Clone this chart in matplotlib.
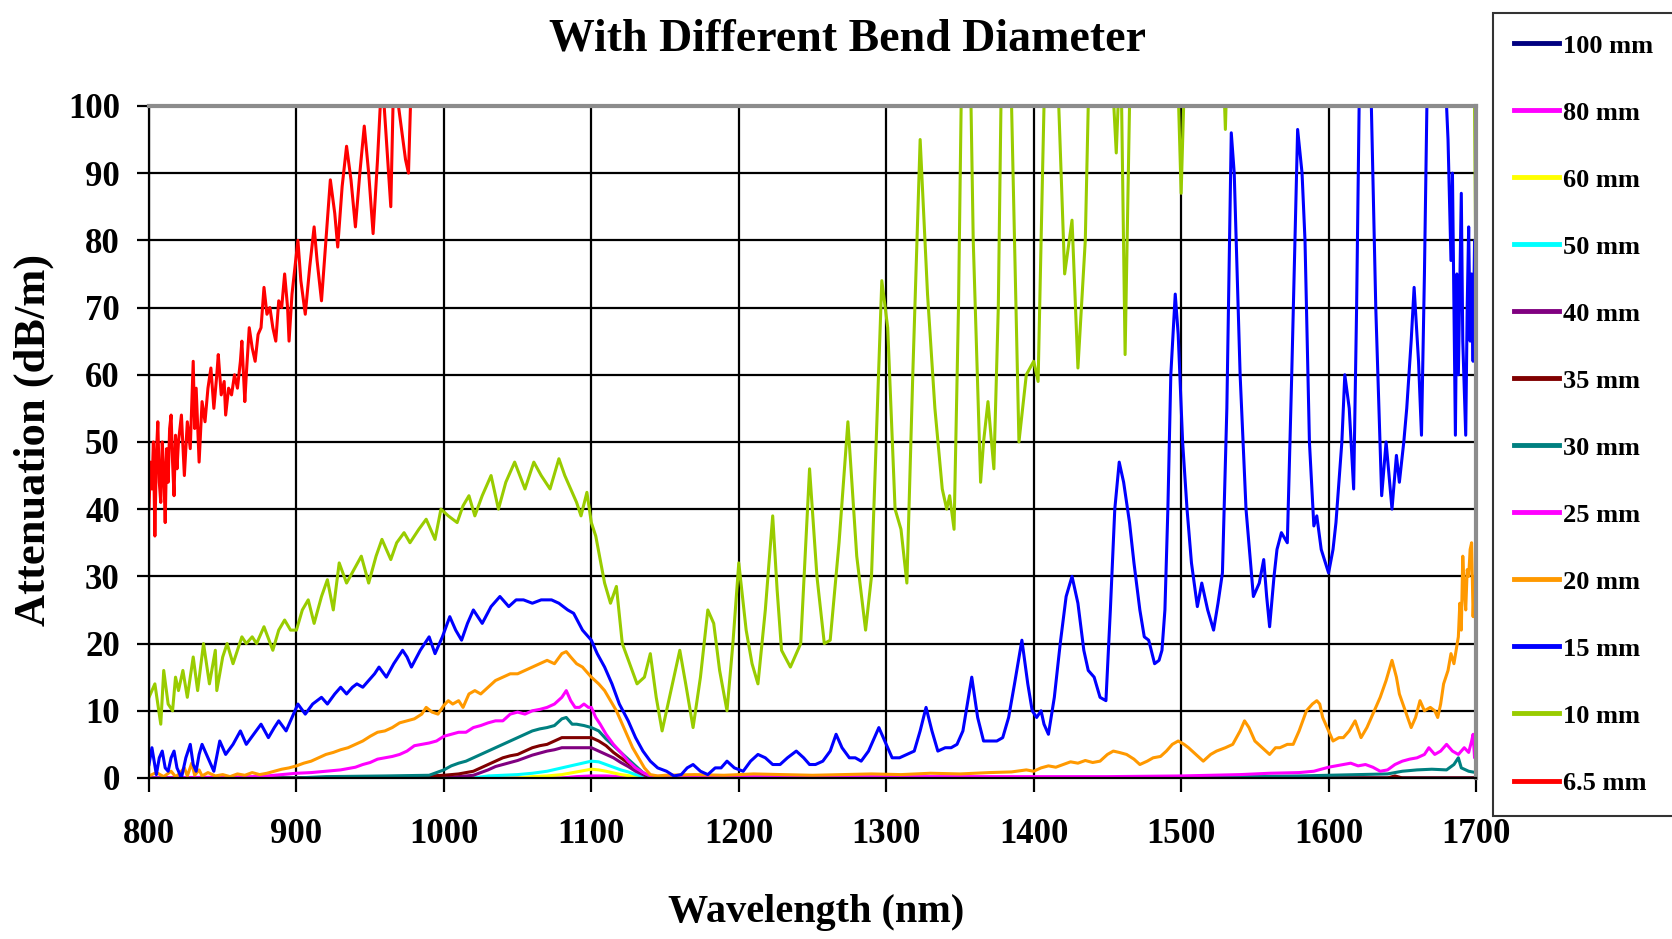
import matplotlib as mpl
import matplotlib.pyplot as plt

mpl.rcParams.update({
    "font.family": "serif",
    "font.serif": ["Liberation Serif", "DejaVu Serif"],
    "font.weight": "bold",
})

# ---- data (wavelength nm, attenuation dB/m) ----
wl_100 = [800, 1700]
att_100 = [0, 0]

wl_80 = [800, 1080, 1090, 1100, 1110, 1120, 1135, 1700]
att_80 = [0, 0, 0.2, 0.3, 0.3, 0.2, 0, 0]

wl_60 = [800, 1050, 1060, 1070, 1080, 1090, 1100, 1105, 1110, 1120, 1130, 1140, 1700]
att_60 = [0, 0, 0.2, 0.3, 0.5, 0.9, 1.3, 1.2, 1.0, 0.5, 0.2, 0, 0]

wl_50 = [800, 1020, 1030, 1040, 1050, 1060, 1070, 1080, 1090, 1100, 1105, 1110,
         1115, 1120, 1125, 1130, 1140, 1700]
att_50 = [0, 0, 0.3, 0.4, 0.5, 0.7, 1.0, 1.5, 2.0, 2.5, 2.4, 2.0,
          1.6, 1.2, 0.9, 0.5, 0, 0]

wl_40 = [800, 1000, 1010, 1020, 1025, 1030, 1035, 1040, 1045, 1050, 1055, 1060,
         1065, 1070, 1075, 1080, 1085, 1090, 1095, 1100, 1105, 1110, 1115, 1120,
         1125, 1130, 1135, 1140, 1700]
att_40 = [0, 0, 0.2, 0.4, 0.8, 1.2, 1.7, 2.0, 2.3, 2.6, 3.0, 3.4,
          3.7, 4.0, 4.2, 4.5, 4.5, 4.5, 4.5, 4.5, 4.0, 3.5, 3.0, 2.3,
          1.7, 1.0, 0.5, 0, 0]

wl_35 = [800, 970, 980, 1000, 1010, 1020, 1025, 1030, 1035, 1040, 1045, 1050,
         1055, 1060, 1065, 1070, 1075, 1080, 1085, 1090, 1095, 1100, 1105, 1110,
         1115, 1120, 1125, 1130, 1135, 1140, 1200, 1640, 1645, 1650, 1700]
att_35 = [0, 0, 0.2, 0.4, 0.6, 1.0, 1.5, 2.0, 2.5, 3.0, 3.3, 3.5,
          4.0, 4.5, 4.8, 5.0, 5.5, 6.0, 6.0, 6.0, 6.0, 6.0, 5.5, 4.8,
          3.8, 3.0, 2.2, 1.5, 0.7, 0.1, 0, 0, 0.3, 0, 0]

wl_30 = [800, 900, 920, 960, 990, 1000, 1005, 1010, 1015, 1020, 1025, 1030,
         1035, 1040, 1045, 1050, 1055, 1060, 1065, 1070, 1075, 1080, 1083, 1087,
         1090, 1095, 1100, 1105, 1110, 1115, 1120, 1125, 1130, 1135, 1140, 1200,
         1500, 1540, 1580, 1600, 1620, 1640, 1650, 1660, 1670, 1680, 1685, 1688,
         1690, 1695, 1700]
att_30 = [0, 0, 0.2, 0.3, 0.4, 1.2, 1.8, 2.2, 2.5, 3.0, 3.5, 4.0,
          4.5, 5.0, 5.5, 6.0, 6.5, 7.0, 7.3, 7.5, 7.8, 8.8, 9.0, 8.0,
          8.0, 7.8, 7.5, 7.0, 5.8, 4.8, 3.8, 2.8, 1.8, 0.8, 0.2, 0,
          0, 0.2, 0.3, 0.4, 0.5, 0.6, 1.0, 1.2, 1.3, 1.2, 2.0, 3.0,
          1.5, 1.0, 0.8]

wl_25 = [800, 840, 870, 880, 890, 900, 910, 920, 930, 940, 945, 950,
         955, 960, 965, 970, 975, 980, 985, 990, 995, 1000, 1005, 1010,
         1015, 1020, 1025, 1030, 1035, 1040, 1045, 1050, 1055, 1060, 1065, 1070,
         1075, 1080, 1083, 1086, 1089, 1092, 1095, 1098, 1100, 1103, 1106, 1110,
         1115, 1120, 1125, 1130, 1135, 1140, 1150, 1200, 1300, 1400, 1450, 1500,
         1520, 1540, 1560, 1580, 1590, 1600, 1605, 1610, 1615, 1620, 1625, 1630,
         1635, 1640, 1645, 1650, 1655, 1660, 1665, 1668, 1672, 1676, 1680, 1684,
         1688, 1692, 1695, 1697, 1698, 1699, 1700]
att_25 = [0, 0.1, 0.2, 0.3, 0.5, 0.7, 0.8, 1.0, 1.2, 1.6, 2.0, 2.3,
          2.8, 3.0, 3.2, 3.5, 4.0, 4.8, 5.0, 5.2, 5.5, 6.2, 6.5, 6.8,
          6.8, 7.5, 7.8, 8.2, 8.5, 8.5, 9.5, 9.8, 9.5, 10.0, 10.2, 10.5,
          11.0, 12.0, 13.0, 11.5, 10.5, 10.5, 11.0, 10.5, 10.5, 9.0, 8.0, 6.5,
          5.0, 3.8, 2.5, 1.5, 0.8, 0.3, 0.2, 0.2, 0.2, 0.2, 0.2, 0.3,
          0.4, 0.5, 0.7, 0.8, 1.0, 1.6, 1.8, 2.0, 2.2, 1.8, 2.0, 1.6,
          1.0, 1.2, 2.0, 2.5, 2.8, 3.0, 3.5, 4.5, 3.5, 4.0, 5.0, 4.0,
          3.5, 4.5, 3.8, 5.5, 6.5, 3.0, 6.0]

wl_20 = [800, 805, 810, 815, 818, 820, 824, 826, 829, 831, 834, 836,
         840, 845, 850, 855, 860, 865, 870, 875, 880, 885, 890, 895,
         900, 905, 910, 915, 920, 925, 930, 935, 940, 945, 950, 955,
         960, 965, 970, 975, 980, 985, 988, 992, 996, 1000, 1003, 1006,
         1010, 1013, 1017, 1021, 1025, 1030, 1035, 1040, 1045, 1050, 1055, 1060,
         1065, 1070, 1075, 1080, 1083, 1086, 1090, 1094, 1100, 1105, 1109, 1113,
         1117, 1121, 1125, 1128, 1132, 1136, 1140, 1145, 1150, 1170, 1190, 1210,
         1230, 1250, 1270, 1290, 1310, 1330, 1350, 1370, 1385, 1395, 1400, 1405,
         1410, 1415, 1420, 1425, 1430, 1435, 1440, 1445, 1450, 1454, 1458, 1463,
         1468, 1472, 1477, 1481, 1486, 1490, 1494, 1498, 1502, 1505, 1510, 1515,
         1520, 1524, 1530, 1535, 1540, 1543, 1546, 1550, 1555, 1560, 1564, 1567,
         1572, 1576, 1580, 1585, 1589, 1592, 1594, 1596, 1600, 1603, 1607, 1610,
         1614, 1618, 1622, 1626, 1629, 1632, 1635, 1639, 1643, 1646, 1648, 1652,
         1656, 1659, 1662, 1665, 1669, 1672, 1674, 1676, 1678, 1681, 1683, 1685,
         1688, 1689, 1690, 1691, 1692, 1693, 1694, 1695, 1696, 1697, 1698, 1699,
         1700]
att_20 = [0.3, 0.8, 0.2, 1.0, 0.2, 0.5, 1.5, 0.3, 2.2, 0.4, 1.2, 0.3,
          0.8, 0.3, 0.5, 0.2, 0.6, 0.4, 0.8, 0.5, 0.7, 1.0, 1.3, 1.5,
          1.8, 2.2, 2.5, 3.0, 3.5, 3.8, 4.2, 4.5, 5.0, 5.5, 6.2, 6.8,
          7.0, 7.5, 8.2, 8.5, 8.8, 9.5, 10.5, 9.8, 9.5, 10.8, 11.5, 11.0,
          11.5, 10.5, 12.5, 13.0, 12.5, 13.5, 14.5, 15.0, 15.5, 15.5, 16.0, 16.5,
          17.0, 17.5, 17.0, 18.5, 18.8, 18.0, 17.0, 16.5, 15.0, 14.0, 13.0, 11.5,
          10.0, 8.0, 6.0, 4.5, 3.0, 1.5, 0.5, 0.3, 0.4, 0.5, 0.4, 0.6,
          0.5, 0.4, 0.5, 0.6, 0.5, 0.7, 0.6, 0.8, 0.9, 1.2, 1.0, 1.5,
          1.8, 1.6, 2.0, 2.4, 2.2, 2.6, 2.3, 2.5, 3.5, 4.0, 3.8, 3.5,
          2.8, 2.0, 2.5, 3.0, 3.2, 4.0, 5.0, 5.5, 5.0, 4.5, 3.5, 2.5,
          3.5, 4.0, 4.5, 5.0, 7.0, 8.5, 7.5, 5.5, 4.5, 3.5, 4.5, 4.5,
          5.0, 5.0, 7.0, 10.0, 11.0, 11.5, 11.0, 9.0, 7.0, 5.5, 6.0, 6.0,
          7.0, 8.5, 6.0, 7.5, 9.0, 10.5, 12.0, 14.5, 17.5, 15.0, 12.5, 10.0,
          7.5, 9.0, 11.5, 10.0, 10.5, 10.0, 9.0, 11.0, 14.0, 16.0, 18.5, 17.0,
          21.0, 26.0, 22.0, 33.0, 28.0, 25.0, 31.0, 30.0, 34.0, 35.0, 24.0, 30.0,
          20.0]

wl_15 = [800, 802, 805, 807, 809, 811, 813, 815, 817, 819, 822, 825,
         828, 830, 832, 834, 836, 840, 844, 848, 852, 857, 862, 866,
         871, 876, 881, 885, 888, 893, 897, 901, 906, 911, 917, 921,
         926, 930, 934, 938, 941, 945, 949, 953, 956, 961, 966, 972,
         975, 978, 984, 990, 994, 999, 1004, 1008, 1012, 1016, 1020, 1023,
         1026, 1032, 1038, 1044, 1049, 1054, 1060, 1066, 1073, 1078, 1084, 1088,
         1094, 1100, 1104, 1109, 1114, 1119, 1125, 1130, 1135, 1140, 1145, 1151,
         1156, 1161, 1165, 1169, 1174, 1179, 1184, 1188, 1192, 1197, 1203, 1208,
         1213, 1218, 1223, 1228, 1233, 1239, 1244, 1248, 1252, 1257, 1262, 1266,
         1270, 1275, 1279, 1283, 1288, 1292, 1295, 1299, 1304, 1309, 1314, 1319,
         1323, 1327, 1331, 1335, 1340, 1344, 1348, 1352, 1355, 1358, 1362, 1366,
         1370, 1375, 1379, 1383, 1387, 1392, 1396, 1399, 1402, 1405, 1407, 1410,
         1414, 1418, 1422, 1426, 1430, 1434, 1437, 1441, 1445, 1449, 1452, 1455,
         1458, 1461, 1465, 1468, 1472, 1475, 1478, 1482, 1485, 1487, 1489, 1491,
         1493, 1496, 1498, 1501, 1504, 1507, 1511, 1514, 1518, 1522, 1525, 1528,
         1531, 1534, 1536, 1540, 1544, 1549, 1553, 1556, 1558, 1560, 1563, 1565,
         1568, 1572, 1575, 1579, 1582, 1584, 1587, 1590, 1592, 1595, 1600, 1603,
         1605, 1609, 1611, 1614, 1617, 1619, 1621, 1625, 1629, 1632, 1636, 1639,
         1643, 1646, 1648, 1651, 1653, 1656, 1658, 1661, 1663, 1665, 1667, 1676,
         1680, 1681, 1683, 1684, 1686, 1687, 1688, 1690, 1691, 1693, 1694, 1695,
         1696, 1697, 1698, 1699, 1700]
att_15 = [2, 4.5, 0.5, 3, 4, 1.5, 1, 3, 4, 1.5, 0, 3,
          5, 2, 1, 3.5, 5, 3, 1, 5.5, 3.5, 5, 7, 5,
          6.5, 8, 6, 7.5, 8.5, 7, 9, 11, 9.5, 11, 12, 11,
          12.5, 13.5, 12.5, 13.5, 14, 13.5, 14.5, 15.5, 16.5, 15, 17, 19,
          18, 16.5, 19, 21, 18.5, 21, 24, 22, 20.5, 23, 25, 24,
          23, 25.5, 27, 25.5, 26.5, 26.5, 26, 26.5, 26.5, 26, 25, 24.5,
          22, 20.5, 18.5, 16.5, 14, 11, 8.5, 6, 4, 2.5, 1.5, 1,
          0.3, 0.5, 1.5, 2, 1, 0.5, 1.5, 1.5, 2.5, 1.5, 1, 2.5,
          3.5, 3, 2, 2, 3, 4, 3, 2, 2, 2.5, 4, 6.5,
          4.5, 3, 3, 2.5, 4, 6, 7.5, 5.5, 3, 3, 3.5, 4,
          7, 10.5, 7, 4, 4.5, 4.5, 5, 7, 11, 15, 9, 5.5,
          5.5, 5.5, 6, 9, 14, 20.5, 14, 10, 9, 10, 8, 6.5,
          12, 20, 27, 30, 26, 19, 16, 15, 12, 11.5, 25, 40,
          47, 44, 38, 32, 25, 21, 20.5, 17, 17.5, 19, 25, 40,
          60, 72, 66, 50, 40, 32, 25.5, 29, 25, 22, 26, 30.5,
          55, 96, 90, 60, 40, 27, 29, 32.5, 27, 22.5, 30, 34,
          36.5, 35, 60, 96.5, 90, 80, 50, 37.5, 39, 34, 30.5, 34,
          38, 50, 60, 55, 43, 70, 105, 105, 100, 70, 42, 50,
          40, 48, 44, 50, 55, 65, 73, 62, 51, 75, 105, 105,
          100, 95, 77, 90, 51, 75, 60, 87, 65, 51, 70, 82,
          65, 75, 62, 80, 72]

wl_10 = [800, 804, 808, 810, 813, 816, 818, 820, 823, 826, 830, 833,
         837, 841, 845, 846, 850, 853, 857, 860, 863, 866, 870, 873,
         878, 884, 888, 892, 896, 900, 904, 908, 912, 917, 921, 925,
         929, 934, 939, 944, 949, 954, 958, 964, 968, 973, 977, 983,
         988, 994, 998, 1003, 1009, 1013, 1017, 1021, 1026, 1032, 1037, 1042,
         1048, 1055, 1058, 1061, 1066, 1072, 1078, 1082, 1086, 1090, 1093, 1097,
         1100, 1103, 1109, 1113, 1117, 1121, 1126, 1131, 1136, 1140, 1144, 1148,
         1154, 1160, 1164, 1169, 1174, 1179, 1183, 1187, 1192, 1196, 1200, 1205,
         1209, 1213, 1218, 1223, 1226, 1229, 1235, 1242, 1248, 1253, 1258, 1262,
         1268, 1274, 1280, 1286, 1290, 1294, 1297, 1301, 1306, 1310, 1314, 1318,
         1323, 1328, 1333, 1338, 1341, 1343, 1346, 1349, 1352, 1356, 1359, 1364,
         1366, 1369, 1373, 1376, 1379, 1383, 1387, 1390, 1395, 1400, 1403, 1406,
         1409, 1413, 1417, 1421, 1426, 1430, 1435, 1439, 1445, 1452, 1456, 1459,
         1462, 1465, 1468, 1490, 1497, 1500, 1503, 1510, 1525, 1530, 1533, 1550,
         1695, 1699, 1700]
att_10 = [12, 14, 8, 16, 11, 10, 15, 13, 16, 12, 18, 13,
          20, 14, 19, 13, 18, 20, 17, 19, 21, 20, 21, 20,
          22.5, 19, 22, 23.5, 22, 22, 25, 26.5, 23, 27, 29.5, 25,
          32, 29, 31, 33, 29, 33, 35.5, 32.5, 35, 36.5, 35, 37,
          38.5, 35.5, 40, 39, 38, 40.5, 42, 39, 42, 45, 40, 44,
          47, 43, 45, 47, 45, 43, 47.5, 45, 43, 41, 39, 42.5,
          38, 36, 29, 26, 28.5, 20, 17, 14, 15, 18.5, 12, 7,
          13, 19, 14, 7.5, 15, 25, 23, 16, 10, 20, 32, 22,
          17, 14, 25, 39, 28, 19, 16.5, 20, 46, 30, 20, 20.5,
          35, 53, 33, 22, 30, 55, 74, 67, 40, 37, 29, 60,
          95, 72, 55, 43, 40, 42, 37, 70, 120, 120, 80, 44,
          50, 56, 46, 70, 120, 120, 80, 50, 60, 62, 59, 90,
          120, 120, 100, 75, 83, 61, 80, 120, 130, 110, 93, 110,
          63, 100, 130, 130, 110, 87, 110, 130, 130, 96.5, 120, 130,
          130, 100, 71]

wl_6p5 = [800, 801, 802, 803, 804, 805, 806, 807, 808, 809, 810, 811,
          812, 813, 814, 815, 816, 817, 818, 819, 820, 822, 824, 826,
          828, 830, 831, 832, 834, 836, 838, 840, 842, 844, 846, 847,
          849, 851, 852, 854, 856, 858, 860, 862, 863, 865, 866, 868,
          870, 872, 874, 876, 878, 880, 882, 884, 886, 888, 890, 892,
          894, 895, 897, 899, 901, 903, 906, 909, 912, 914, 917, 920,
          923, 926, 928, 931, 934, 937, 940, 943, 946, 949, 952, 955,
          958, 961, 964, 966, 968, 971, 974, 976, 978]
att_6p5 = [40, 47, 43, 50, 36, 48, 53, 44, 41, 50, 46, 38,
           49, 44, 52, 54, 47, 42, 51, 46, 50, 54, 45, 53,
           49, 62, 52, 58, 47, 56, 53, 58, 61, 55, 60, 63,
           57, 59, 54, 58, 57, 60, 58, 62, 65, 56, 60, 67,
           64, 62, 66, 67, 73, 69, 70, 67, 65, 71, 70, 75,
           70, 65, 72, 76, 80, 74, 69, 76, 82, 77, 71, 80,
           89, 84, 79, 88, 94, 89, 82, 90, 97, 90, 81, 92,
           105, 95, 85, 105, 102, 97, 92, 90, 105]

labels = ["100 mm", "80 mm", "60 mm", "50 mm", "40 mm", "35 mm",
          "30 mm", "25 mm", "20 mm", "15 mm", "10 mm", "6.5 mm"]
colors = ["#000080", "#FF00FF", "#FFFF00", "#00FFFF", "#800080", "#800000",
          "#008080", "#FF00FF", "#FF9900", "#0000FF", "#99CC00", "#FF0000"]
series = [(wl_100, att_100), (wl_80, att_80), (wl_60, att_60), (wl_50, att_50),
          (wl_40, att_40), (wl_35, att_35), (wl_30, att_30), (wl_25, att_25),
          (wl_20, att_20), (wl_15, att_15), (wl_10, att_10), (wl_6p5, att_6p5)]

# ---- figure ----
fig = plt.figure(figsize=(16.72, 9.39), dpi=100)
ax = fig.add_axes([0.0891, 0.1715, 0.7937, 0.7157])

for (x, y), lab, c in zip(series, labels, colors):
    ax.plot(x, y, color=c, lw=2.2, label=lab)

ax.set_xlim(800, 1700)
ax.set_ylim(0, 100)
ax.set_xticks(range(800, 1701, 100))
ax.set_yticks(range(0, 101, 10))
ax.set_axisbelow(True)
ax.grid(True, color="black", lw=1.6)
ax.tick_params(axis="both", labelsize=25, width=1.6, color="black")
ax.tick_params(axis="x", length=10, pad=19)
ax.tick_params(axis="y", length=9, pad=12)
for lbl in ax.get_xticklabels() + ax.get_yticklabels():
    lbl.set_fontweight("bold")

for side in ("top", "right"):
    ax.spines[side].set_color("#8c8c8c")
    ax.spines[side].set_linewidth(3)
for side in ("left", "bottom"):
    ax.spines[side].set_color("black")
    ax.spines[side].set_linewidth(1.6)

fig.text(0.507, 0.958, "With Different Bend Diameter", ha="center", va="center",
         fontsize=33, fontweight="bold")
fig.text(0.488, 0.028, "Wavelength (nm)", ha="center", va="center",
         fontsize=29, fontweight="bold")
fig.text(0.020, 0.532, "Attenuation (dB/m)", ha="center", va="center",
         rotation=90, fontsize=32, fontweight="bold")

leg = ax.legend(loc="upper left", bbox_to_anchor=(1493 / 1672, 1 - 13 / 939),
                bbox_transform=fig.transFigure, borderaxespad=0,
                fontsize=19, frameon=True, fancybox=False, edgecolor="black",
                handlelength=1.7, handletextpad=0.15, labelspacing=1.65,
                borderpad=0.8)
leg.get_frame().set_linewidth(1.5)
for line in leg.get_lines():
    line.set_linewidth(3.5)
for t in leg.get_texts():
    t.set_fontweight("bold")

fig.savefig("out.png", dpi=100)
